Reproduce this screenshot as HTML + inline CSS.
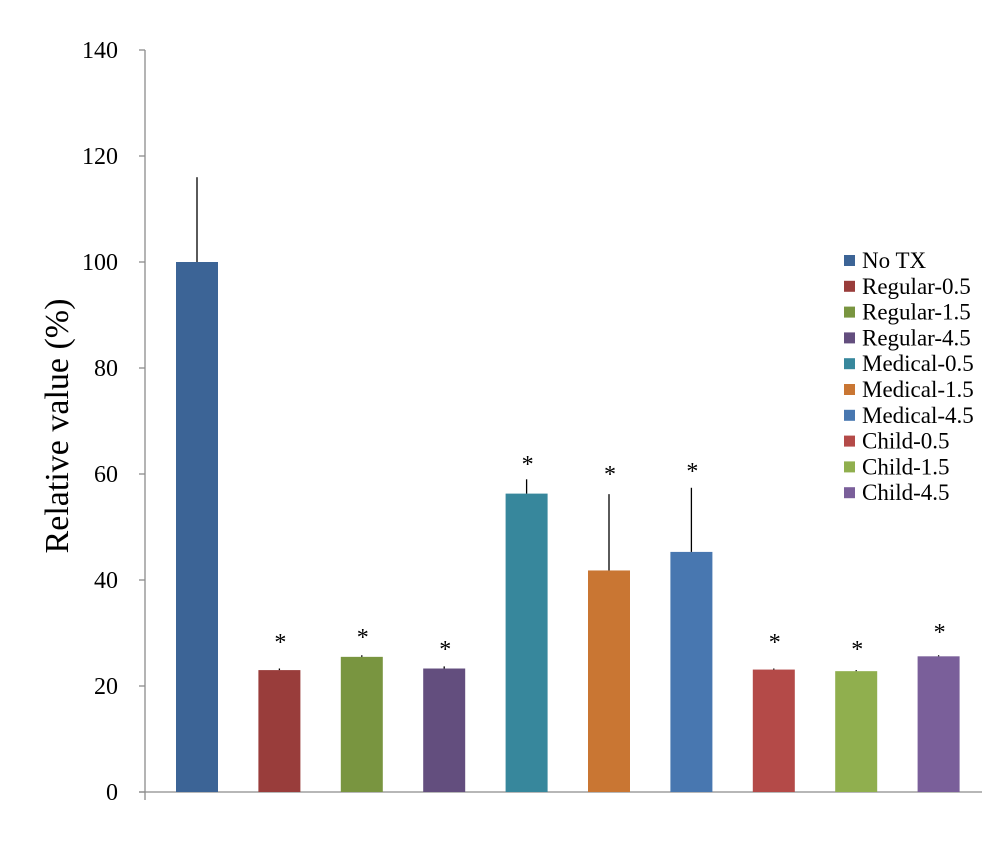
<!DOCTYPE html>
<html><head><meta charset="utf-8"><style>
body{margin:0;background:#fff}
svg text{font-family:"Liberation Serif",serif;fill:#000}
</style></head><body>
<svg id="chart" width="1005" height="850" viewBox="0 0 1005 850" xmlns="http://www.w3.org/2000/svg">
<g id="axes"></g><g id="bars"></g><g id="legend"></g>
<text transform="translate(68,426) rotate(-90)" text-anchor="middle" font-size="34">Relative value (%)</text>
</svg>
<script>
const categories=["No TX","Regular-0.5","Regular-1.5","Regular-4.5","Medical-0.5","Medical-1.5","Medical-4.5","Child-0.5","Child-1.5","Child-4.5"];
const values=[100,23,25.5,23.3,56.3,41.8,45.3,23.1,22.8,25.6];
const errors=[16,0.3,0.3,0.4,2.7,14.4,12.1,0.2,0.2,0.2];
const starLevels=[null,29.1,30,27.7,62.6,60.8,61.3,29.1,27.7,30.9];
const colors=["#3C6496","#993D3B","#799540","#634E7E","#37879C","#C97633","#4877B0","#B44A48","#90AF4E","#7A5F9A"];
const yTicks=[0,20,40,60,80,100,120,140];
const NS="http://www.w3.org/2000/svg";
const y=v=>792-v*5.3;
const x=i=>176+i*82.4;
const bw=42;
function mk(tag,attrs,parent,txt){const e=document.createElementNS(NS,tag);for(const k in attrs)e.setAttribute(k,attrs[k]);if(txt!==undefined)e.textContent=txt;parent.appendChild(e);return e;}
const ax=document.getElementById('axes');
const yl=mk('line',{x1:145,y1:y(140),x2:145,y2:y(0)+8,stroke:'#8c8c8c','stroke-width':1.3},ax);


const xl=mk('line',{x1:139,y1:y(0),x2:982,y2:y(0),stroke:'#8c8c8c','stroke-width':1.3},ax);


yTicks.forEach(t=>{
  const tk=mk('line',{x1:139,y1:y(t),x2:145,y2:y(t),stroke:'#8c8c8c','stroke-width':1.3},ax);
  
  
  const lb=mk('text',{x:118,y:y(t)+8,'text-anchor':'end','font-size':24},ax,String(t));
  
  
});
const bg=document.getElementById('bars');
values.forEach((v,i)=>{
  const r=mk('rect',{x:x(i),y:y(v),width:bw,height:y(0)-y(v),fill:colors[i]},bg);
  
  
  const cx=x(i)+bw/2;
  const e=mk('line',{x1:cx,y1:y(v),x2:cx,y2:y(v+errors[i]),stroke:'#000','stroke-width':1.3},bg);
  
  
  if(starLevels[i]!==null){
    const s=mk('text',{x:cx+1,y:y(starLevels[i])+12,'text-anchor':'middle','font-size':24},bg,'*');
    
    
  }
});
const lg=document.getElementById('legend');
categories.forEach((c,i)=>{
  const ly=260+i*25.8;
  const g=mk('g',{},lg);
  
  
  mk('rect',{x:844,y:ly-5,width:11,height:11,fill:colors[i]},g);
  mk('text',{x:862,y:ly+8,'font-size':23},g,c);
});
</script>
</body></html>
